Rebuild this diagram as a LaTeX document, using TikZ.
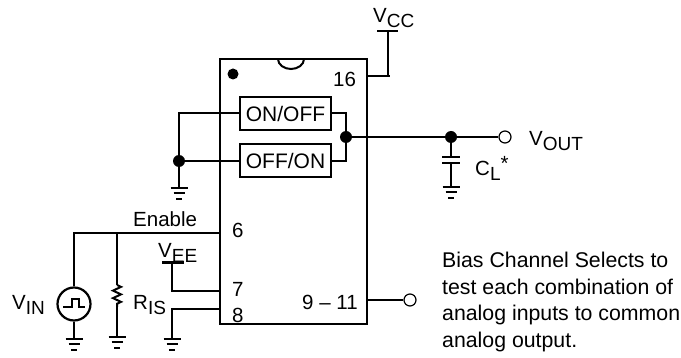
\documentclass[tikz,border=0pt]{standalone}
\usepackage{fontspec}
\setmainfont{Liberation Sans}
\usetikzlibrary{positioning,decorations.pathmorphing}
\newcommand{\subtxt}[2]{#1\raisebox{-5pt}{\fontsize{19}{19}\selectfont #2}}
\tikzstyle{wire} = [line width=2pt]
\tikzstyle{chip} = [rectangle, minimum width=147pt, minimum height=265pt, draw=black, line width=2pt]
\tikzstyle{switch} = [rectangle, minimum width=91pt, minimum height=33pt, inner sep=0pt, text centered, draw=black, line width=2pt, font=\fontsize{21}{24}\selectfont]
\tikzstyle{junction} = [circle, fill=black, inner sep=0pt, minimum size=12pt]
\tikzstyle{terminal} = [circle, fill=white, draw=black, line width=1.2pt, inner sep=0pt, minimum size=12pt]
\tikzstyle{label} = [anchor=base west, inner sep=0pt]
\tikzstyle{source} = [circle, draw=black, line width=2.2pt, inner sep=0pt, minimum size=33pt]
\tikzset{gnd/.pic={
  \draw[line width=2pt] (-8.5,0) -- (8.5,0);
  \draw[line width=2pt] (-5.5,5.5) -- (5.5,5.5);
  \draw[line width=2pt] (-3,11) -- (3,11);
}}

\begin{document}
\begin{tikzpicture}[x=1pt,y=-1pt,font=\fontsize{20.5}{24}\selectfont]
\useasboundingbox (0,0) rectangle (681,358);
% package
\node[chip] (ic) at (293.5,191.5) {};
\draw[wire] (278,59) arc[start angle=180,end angle=360,x radius=13,y radius=-10];
\node[junction,minimum size=11pt] (pinone) at (233,74) {};
\node[switch] (onoff) at (285.5,113.5) {ON/OFF};
\node[switch] (offon) at (285.5,161) {OFF/ON};
\node[label] (n16) at (333,87) {16};
\node[label] (n6) at (232,238) {6};
\node[label] (n7) at (232,297) {7};
\node[label] (n8) at (232,323) {8};
\node[label] (n911) at (302,310) {9 – 11};
% nets on the switches
\node[junction] (swout) at (346,137) {};
\node[junction] (swgnd) at (179,161) {};
\coordinate (gndtop) at (179,188);
\draw[wire] (onoff.west) -| (swgnd);
\draw[wire] (offon.west) -- (swgnd);
\draw[wire] (swgnd) -- (gndtop);
\pic at (gndtop) {gnd};
\draw[wire] (onoff.east) -| (swout);
\draw[wire] (offon.east) -| (swout);
% output
\node[junction] (outdot) at (451,137) {};
\node[terminal] (outterm) at (505,137) {};
\draw[wire] (swout) -- (outdot);
\draw[wire] (outdot) -- (outterm);
\coordinate (capa) at (451,157);
\coordinate (capb) at (451,163);
\coordinate (capgnd) at (451,187);
\draw[wire] (outdot) -- (capa);
\draw[wire] (capb) -- (capgnd);
\draw[wire] ([xshift=-9pt]capa) -- ([xshift=9pt]capa);
\draw[wire] ([xshift=-9pt]capb) -- ([xshift=9pt]capb);
\pic at (capgnd) {gnd};
\node[label] (vout) at (529,146) {\subtxt{V}{OUT}};
\node[label] (cl) at (475,176) {\subtxt{C}{L}\raisebox{5pt}{*}};
% supply
\coordinate (pin16) at (366,76);
\coordinate (vccjoin) at (390,76);
\coordinate (vccbar) at (388,31);
\draw[wire] (pin16) -- (vccjoin);
\draw[wire] (vccbar) -- (vccbar |- pin16);
\draw[wire] ([xshift=-11pt]vccbar) -- ([xshift=10pt]vccbar);
\node[label] (vcc) at (373,23) {\subtxt{V}{CC}};
% enable
\coordinate (pin6) at (220,233);
\coordinate (enleft) at (74,233);
\coordinate (rtop) at (117,233);
\coordinate (ra) at (117,285);
\coordinate (rb) at (117,307);
\coordinate (rgnd) at (117,337);
\node[source] (vsrc) at (74,304) {};
\coordinate (srcgnd) at (74,339);
\draw[wire] (pin6) -- (enleft) -- (vsrc.north);
\draw[wire] (vsrc.south) -- (srcgnd);
\pic at (srcgnd) {gnd};
\draw[line width=2.4pt] (63,307) -- (72,307) -- (72,299) -- (79,299) -- (79,307) -- (85,307);
\draw[wire] (rtop) -- (ra);
\draw[wire,decorate,decoration={zigzag,segment length=7.5pt,amplitude=4pt}] (ra) -- (rb);
\draw[wire] (rb) -- (rgnd);
\pic at (rgnd) {gnd};
\node[label] (enable) at (133,227) {Enable};
\node[label] (vin) at (12,310) {\subtxt{V}{IN}};
\node[label] (ris) at (133,310) {\subtxt{R}{IS}};
% pins 7, 8
\coordinate (pin7) at (220,291);
\coordinate (vee) at (172,263);
\node[label] (veetxt) at (158,258) {\subtxt{V}{EE}};
\draw[wire] (pin7) -| (vee);
\draw[line width=3pt] ([xshift=-10pt]vee) -- ([xshift=12pt]vee);
\coordinate (pin8) at (220,309);
\coordinate (pin8gnd) at (172,339);
\draw[wire] (pin8) -| (pin8gnd);
\pic at (pin8gnd) {gnd};
% channel selects
\node[terminal] (csterm) at (410,300) {};
\draw[wire] (367,300) -- (csterm);
\node[label,align=left,anchor=north west,font=\fontsize{21.3}{26.6}\selectfont] (note) at (442,252) {Bias Channel Selects to\\test each combination of\\analog inputs to common\\analog output.};
\end{tikzpicture}
\end{document}
